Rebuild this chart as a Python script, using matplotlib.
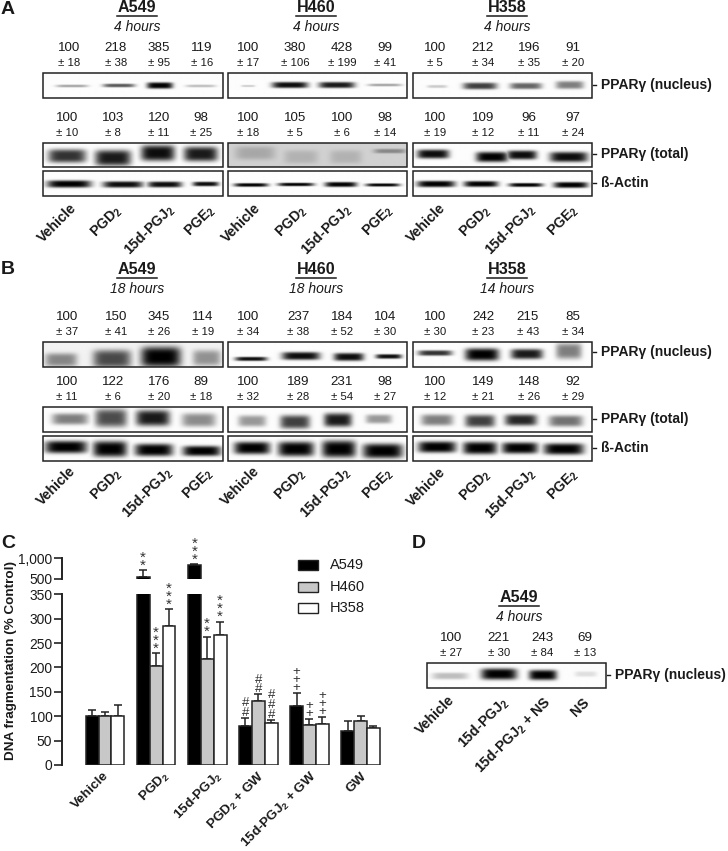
import numpy as np
import matplotlib
matplotlib.use("Agg")
import matplotlib.pyplot as plt
from matplotlib.patches import Rectangle
from matplotlib.transforms import ScaledTranslation

plt.rcParams['font.family'] = ['Liberation Sans', 'DejaVu Sans']
plt.rcParams['mathtext.fontset'] = 'custom'
plt.rcParams['mathtext.bf'] = 'Liberation Sans:bold'
plt.rcParams['mathtext.rm'] = 'Liberation Sans:bold'
plt.rcParams['mathtext.default'] = 'bf'

W, H, DPI = 728, 851, 100
INK = '#1a1a1a'

# ---- bar chart data (panel C) ----
groups = ['Vehicle', 'PGD$_2$', '15d-PGJ$_2$', 'PGD$_2$ + GW', '15d-PGJ$_2$ + GW', 'GW']
series = ['A549', 'H460', 'H358']
a549 = [100, 550, 845, 80, 121, 70]
h460 = [100, 202, 217, 132, 82, 90]
h358 = [100, 285, 267, 87, 85, 75]
a549_err = [12, 163, 5, 17, 27, 20]
h460_err = [9, 27, 46, 13, 12, 11]
h358_err = [22, 34, 27, 6, 14, 5]
bar_colors = ['black', '#c8c8c8', 'white']
yticks_low = [0, 50, 100, 150, 200, 250, 300, 350]
yticks_up = [500, 1000]
# (group, series, symbol, count)
marks = [(1, 0, '*', 2), (1, 1, '*', 3), (1, 2, '*', 3), (2, 0, '*', 3), (2, 1, '*', 2), (2, 2, '*', 3),
         (3, 0, '#', 2), (3, 1, '#', 2), (3, 2, '#', 3), (4, 0, '+', 3), (4, 1, '+', 2), (4, 2, '+', 3)]
MARK_STYLE = {'*': dict(fontsize=11, linespacing=0.46, lift=0.5),
              '#': dict(fontsize=9.5, linespacing=0.75, lift=2),
              '+': dict(fontsize=9.5, linespacing=0.55, lift=2)}

# ---- blot labels ----
lanes = ['Vehicle', 'PGD$_2$', '15d-PGJ$_2$', 'PGE$_2$']
lanes_d = ['Vehicle', '15d-PGJ$_2$', '15d-PGJ$_2$ + NS', 'NS']
a_nuc_vals = [[100, 218, 385, 119], [100, 380, 428, 99], [100, 212, 196, 91]]
a_nuc_sem = [[18, 38, 95, 16], [17, 106, 199, 41], [5, 34, 35, 20]]
a_tot_vals = [[100, 103, 120, 98], [100, 105, 100, 98], [100, 109, 96, 97]]
a_tot_sem = [[10, 8, 11, 25], [18, 5, 6, 14], [19, 12, 11, 24]]
b_nuc_vals = [[100, 150, 345, 114], [100, 237, 184, 104], [100, 242, 215, 85]]
b_nuc_sem = [[37, 41, 26, 19], [34, 38, 52, 30], [30, 23, 43, 34]]
b_tot_vals = [[100, 122, 176, 89], [100, 189, 231, 98], [100, 149, 148, 92]]
b_tot_sem = [[11, 6, 20, 18], [32, 28, 54, 27], [12, 21, 26, 29]]
d_vals = [100, 221, 243, 69]
d_sem = [27, 30, 84, 13]

fig = plt.figure(figsize=(W / DPI, H / DPI), dpi=DPI, facecolor='white')
ov = fig.add_axes([0, 0, 1, 1])
ov.set_xlim(0, W)
ov.set_ylim(H, 0)
ov.axis('off')


def blot(x0, x1, y0, y1, bands, bg=0.99):
    xs = np.arange(x0, x1 + 0.5, 0.5)
    ys = np.arange(y0, y1 + 0.25, 0.5)
    X, Y = np.meshgrid(xs, ys)
    dark = np.zeros_like(X)
    for cx, w, cy, h, d in bands:
        lane = d * np.exp(-np.abs((X - cx) / w) ** 5) * np.exp(-np.abs((Y - cy) / (h * 1.15)) ** 3.5)
        dark = np.maximum(dark, lane)
    ov.imshow(bg * (1 - dark), extent=(x0, x1, y1, y0), cmap='gray', vmin=0, vmax=1,
              aspect='auto', interpolation='bilinear', zorder=1)
    ov.add_patch(Rectangle((x0, y0), x1 - x0, y1 - y0, fill=False, ec='#222222', lw=1.1, zorder=2))


def numbers(xs, y, vals, sems):
    for x, v, s in zip(xs, vals, sems):
        ov.text(x, y, str(v), ha='center', va='center', fontsize=9.6, color=INK)
        ov.text(x, y + 15, f'\u00b1 {s}', ha='center', va='center', fontsize=8.2, color=INK)


def title(x, y, name, sub):
    ov.text(x, y, name, ha='center', va='center', fontsize=11.6, fontweight='bold', color=INK)
    ov.plot([x - 20, x + 20], [y + 7.5, y + 7.5], color=INK, lw=1.1, zorder=3)
    ov.text(x, y + 19, sub, ha='center', va='center', fontsize=10, style='italic', color=INK)


def side(x, y, txt):
    ov.plot([x, x + 3], [y, y], color=INK, lw=1)
    ov.text(x + 8, y, txt, ha='left', va='center', fontsize=10, fontweight='bold', color=INK)


def rot(xs, ys, labels):
    for x, y, t in zip(xs, ys, labels):
        ov.text(x, y, t, rotation=45, ha='right', va='center', rotation_mode='anchor',
                fontsize=10.2, fontweight='bold', color=INK)


COLS = [(43, 223), (228, 407), (413, 592)]

# ---- Panel letters ----
ov.text(1, 10, 'A', fontsize=14, fontweight='bold', va='center', color=INK)
ov.text(1, 270, 'B', fontsize=14, fontweight='bold', va='center', color=INK)
ov.text(1, 544, 'C', fontsize=14, fontweight='bold', va='center', color=INK)
ov.text(412, 544, 'D', fontsize=14, fontweight='bold', va='center', color=INK)

for (x, n, s) in [(137, 'A549', '4 hours'), (316, 'H460', '4 hours'), (507, 'H358', '4 hours')]:
    title(x, 8, n, s)
for (x, n, s) in [(137, 'A549', '18 hours'), (316, 'H460', '18 hours'), (507, 'H358', '14 hours')]:
    title(x, 270, n, s)
title(519, 598, 'A549', '4 hours')

a_x = [[69, 116, 159, 202], [248, 295, 342, 385], [435, 483, 529, 573]]
a_x2 = [[67, 113, 159, 201], [248, 295, 342, 385], [435, 483, 529, 573]]
b_x = [[67, 116, 159, 203], [248, 298, 342, 385], [435, 483, 528, 573]]
b_x2 = [[67, 113, 159, 201], [248, 298, 342, 385], [435, 483, 529, 573]]
for i in range(3):
    numbers(a_x[i], 48, a_nuc_vals[i], a_nuc_sem[i])
    numbers(a_x2[i], 118, a_tot_vals[i], a_tot_sem[i])
    numbers(b_x[i], 317, b_nuc_vals[i], b_nuc_sem[i])
    numbers(b_x2[i], 382, b_tot_vals[i], b_tot_sem[i])
numbers([451, 499, 542, 585], 638, d_vals, d_sem)

# ---- Panel A blots ----
blot(*COLS[0], 73, 98, [(72, 16, 86, 1.2, .35), (119, 16, 85.5, 1.6, .65), (160, 13, 85.5, 2.8, 1), (201, 15, 86, 1.2, .25)])
blot(*COLS[1], 73, 98, [(248, 7, 86, .9, .2), (290, 18, 85, 2.7, .95), (337, 18, 85, 2.7, .9), (385, 17, 85, 1.2, .35)])
blot(*COLS[2], 73, 98, [(437, 10, 86.5, 1.3, .2), (480, 17, 86, 3, .75), (526, 16, 86, 2.8, .6), (570, 14, 85, 3.5, .5)])
blot(*COLS[0], 143, 167, [(67, 19, 156, 6, .8), (113, 18, 158, 7, .9), (158, 17, 153, 7, .95), (201, 17, 154, 6.5, .9)])
blot(*COLS[1], 143, 167, [(255, 20, 153, 6, .2), (301, 17, 157, 6, .15), (346, 16, 157, 6, .15), (390, 16, 151, 2, .35)], bg=.82)
blot(*COLS[2], 143, 167, [(433, 16, 154, 4, .95), (492, 16, 157, 4.5, 1), (522, 15, 155, 4, .95), (569, 19, 157, 4.5, .95)])
blot(*COLS[0], 171, 196, [(69, 22, 184, 3.2, 1), (123, 20, 184.5, 2.8, .95), (165, 17, 184.5, 2.6, .95), (206, 13, 184, 2, .95)])
blot(*COLS[1], 171, 196, [(251, 17, 185, 1.6, 1), (296, 18, 184.5, 1.5, 1), (341, 16, 184.5, 2.2, 1), (383, 17, 185, 1.4, 1)])
blot(*COLS[2], 171, 196, [(436, 19, 184, 2.8, 1), (481, 17, 184, 2.6, 1), (526, 17, 185, 1.7, 1), (571, 17, 185, 2.6, 1)])

# ---- Panel B blots ----
blot(*COLS[0], 342, 367, [(61, 16, 360, 6, .45), (112, 19, 359, 8, .7), (161, 20, 357, 9, 1), (207, 14, 358, 7, .4)], bg=.95)
blot(*COLS[1], 342, 367, [(251, 16, 359, 1.8, .95), (301, 19, 356, 3.5, .95), (349, 15, 357, 3.5, .95), (389, 13, 356.5, 2, .95)])
blot(*COLS[2], 342, 367, [(435, 17, 353, 2.4, .8), (482, 17, 354.5, 5.5, 1), (527, 16, 354, 4.5, .9), (569, 13, 351, 7, .5)])
blot(*COLS[0], 407, 432, [(70, 18, 419, 5, .5), (111, 16, 418, 8, .7), (153, 17, 418, 7, .9), (199, 17, 420, 6, .45)])
blot(*COLS[1], 407, 432, [(252, 14, 421, 5, .4), (295, 15, 422, 6, .75), (338, 14, 420, 6, .9), (379, 13, 419, 4, .4)])
blot(*COLS[2], 407, 432, [(437, 16, 420, 5, .5), (480, 15, 421, 5.5, .75), (521, 16, 420, 5, .85), (566, 17, 421, 5, .55)])
blot(*COLS[0], 436, 461, [(66, 21, 447, 5.5, 1), (110, 17, 449, 7, 1), (154, 19, 450, 5.5, 1), (202, 19, 451, 4.5, 1)])
blot(*COLS[1], 436, 461, [(252, 18, 448, 5.5, 1), (296, 18, 449, 6.5, 1), (339, 17, 449, 7.5, 1), (383, 20, 451, 6.5, 1)])
blot(*COLS[2], 436, 461, [(437, 19, 447, 5, 1), (480, 17, 448, 5.5, 1), (520, 18, 448, 5, 1), (564, 20, 449, 5, 1)])

# ---- Panel D blot ----
blot(427, 606, 663, 688, [(450, 18, 676, 3, .25), (499, 18, 674, 5, 1), (543, 14, 675, 4.5, 1), (586, 11, 674, 2.4, .12)])

side(593, 85, 'PPAR\u03b3 (nucleus)')
side(593, 154, 'PPAR\u03b3 (total)')
side(593, 183, '\u00df-Actin')
side(593, 352, 'PPAR\u03b3 (nucleus)')
side(593, 419, 'PPAR\u03b3 (total)')
side(593, 448, '\u00df-Actin')
side(607, 675, 'PPAR\u03b3 (nucleus)')

rot([74, 120, 173, 213], [206, 208, 207, 208], lanes)
rot([258, 305, 350, 391], [206, 208, 207, 208], lanes)
rot([443, 489, 534, 576], [206, 208, 207, 208], lanes)
rot([73, 120, 171, 211], [469, 471, 470, 471], lanes)
rot([257, 304, 349, 391], [469, 471, 470, 471], lanes)
rot([443, 489, 534, 576], [470, 472, 471, 472], lanes)
rot([452, 507, 549, 587], [698, 700, 700, 700], lanes_d)

# ---- Panel C ----
AX_L, AX_R = 62, 385
y0_px, y350_px = 765, 594.3
y500_px, y1000_px = 578.7, 558.3
ax = fig.add_axes([AX_L / W, 1 - y0_px / H, (AX_R - AX_L) / W, (y0_px - y350_px) / H])
axu = fig.add_axes([AX_L / W, 1 - y500_px / H, (AX_R - AX_L) / W, (y500_px - y1000_px) / H])
PITCH = 51.1
xlim = ((AX_L - 105) / PITCH, (AX_R - 105) / PITCH)
bw = 12.9 / PITCH
all_vals = [a549, h460, h358]
all_errs = [a549_err, h460_err, h358_err]
for a in (ax, axu):
    a.patch.set_alpha(0)
    for i, (vals, errs, c) in enumerate(zip(all_vals, all_errs, bar_colors)):
        xx = np.arange(len(groups)) + (i - 1) * bw
        a.bar(xx, vals, bw, color=c, edgecolor='#222222', linewidth=1.1, zorder=2)
        a.errorbar(xx, vals, yerr=[np.zeros(len(vals)), errs], fmt='none', ecolor='#222222',
                   elinewidth=1.1, capsize=2.9, capthick=1.1, zorder=1)
    a.set_xlim(*xlim)
    for s in ('top', 'right', 'bottom'):
        a.spines[s].set_visible(False)
    a.spines['left'].set_linewidth(1.4)
    a.spines['left'].set_color('#222222')
    a.tick_params(axis='y', length=5.5, width=1.2, pad=1.5, labelsize=9.9, color='#222222', labelcolor=INK)
ax.set_ylim(0, 350)
axu.set_ylim(500, 1000)
ax.set_yticks(yticks_low)
axu.set_yticks(yticks_up, ['500', '1,000'])
axu.set_xticks([])
ax.set_xticks(range(len(groups)))
ax.set_xticklabels(groups, rotation=45, ha='right', va='center', rotation_mode='anchor',
                   fontsize=9.7, fontweight='bold', color=INK)
ax.tick_params(axis='x', length=0, pad=6.5)
for lab, dx in zip(ax.get_xticklabels(), [2, 11, 13, 5, 6, 4]):
    lab.set_transform(lab.get_transform() + ScaledTranslation(dx / DPI, 0, fig.dpi_scale_trans))

for g, s_i, sym, n in marks:
    top = all_vals[s_i][g] + all_errs[s_i][g]
    target = axu if top > 350 else ax
    st = MARK_STYLE[sym]
    target.annotate('\n'.join([sym] * n), xy=(g + (s_i - 1) * bw, top), xytext=(0, st['lift'] * 72 / DPI),
                    textcoords='offset points', ha='center', va='baseline', multialignment='center',
                    fontsize=st['fontsize'], linespacing=st['linespacing'], color='#333333',
                    annotation_clip=False)

ov.text(11, 661, 'DNA fragmentation (% Control)', rotation=90, ha='center', va='center',
        fontsize=9.7, fontweight='bold', color=INK)

for yy, name, c in zip([565, 587, 608], series, bar_colors):
    ov.add_patch(Rectangle((298, yy - 5), 20, 10, fc=c, ec='#222222', lw=1))
    ov.text(330, yy, name, ha='left', va='center', fontsize=10.5, color=INK)

ov.set_xlim(0, W)
ov.set_ylim(H, 0)
fig.savefig('out.png', dpi=DPI)
